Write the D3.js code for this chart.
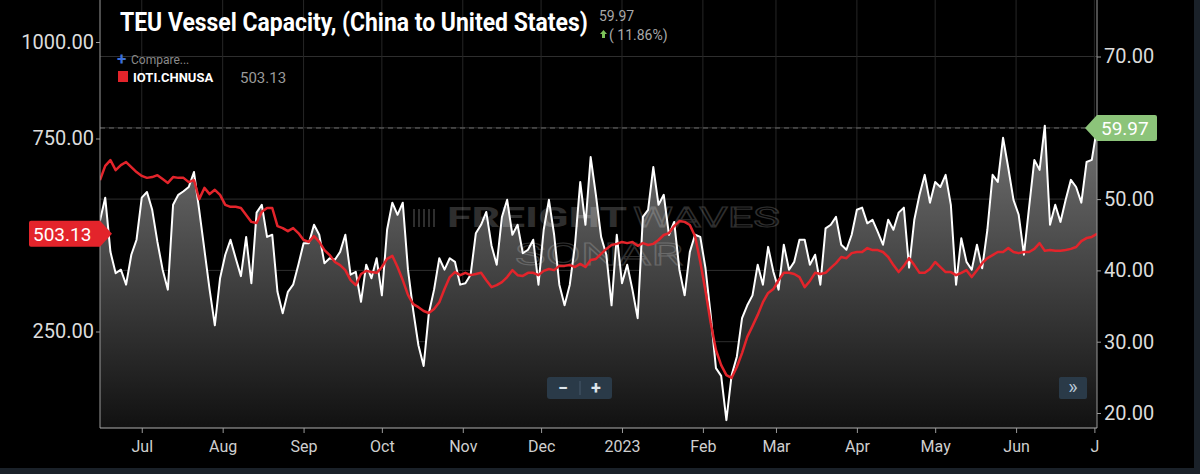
<!DOCTYPE html>
<html>
<head>
<meta charset="utf-8">
<script src="https://cdn.jsdelivr.net/npm/d3@7/dist/d3.min.js"></script>
<style>
  html, body { margin: 0; padding: 0; background: #000; }
  svg { display: block; font-family: Roboto, "Noto Sans", sans-serif; }
</style>
</head>
<body>
<script>
// ---- data (one value every 2 days from 2022-06-15) ----
const startDate = new Date(2022, 5, 15);
const stepDays = 2;

// TEU Vessel Capacity, China -> US (right axis)
const teuCapacity = [
  47.0, 50.2, 42.6, 39.6, 40.1, 38.0, 42.2, 44.3, 50.2, 51.0,
  48.5, 44.0, 40.1, 37.3, 49.2, 50.6, 51.1, 51.7, 53.8, 48.5,
  42.9, 37.3, 32.3, 38.9, 42.2, 44.3, 41.7, 39.2, 44.7, 38.2,
  48.1, 49.2, 44.7, 45.0, 37.0, 34.0, 37.0, 38.0, 40.8, 43.8,
  43.8, 46.4, 45.0, 41.0, 41.7, 41.5, 42.6, 45.0, 39.4, 39.8,
  35.6, 40.8, 38.9, 41.7, 36.5, 45.7, 49.5, 47.8, 49.5, 40.1,
  34.4, 29.5, 26.6, 34.0, 37.3, 41.7, 40.1, 41.7, 41.2, 38.0,
  38.2, 39.4, 45.2, 46.4, 48.2, 43.5, 40.8, 47.5, 49.9, 45.0,
  46.4, 42.4, 42.9, 44.3, 38.0, 45.7, 49.9, 45.0, 38.0, 35.1,
  38.0, 43.6, 52.4, 46.4, 55.9, 50.6, 44.7, 42.2, 35.1, 45.0,
  38.2, 40.8, 37.3, 33.3, 47.5, 48.5, 54.5, 49.2, 50.6, 45.0,
  46.8, 40.1, 36.5, 42.6, 45.0, 44.7, 40.3, 33.7, 26.3, 25.2,
  19.0, 25.3, 27.9, 33.3, 35.1, 36.5, 40.8, 38.0, 43.3, 39.8,
  37.3, 43.6, 40.1, 41.2, 44.3, 44.3, 40.8, 42.2, 38.0, 45.9,
  46.4, 47.5, 43.6, 42.9, 45.0, 48.5, 48.8, 46.6, 47.1, 45.4,
  43.6, 47.1, 45.7, 48.1, 48.8, 40.4, 47.1, 50.6, 53.4, 49.5,
  52.4, 51.7, 53.4, 49.2, 38.0, 44.5, 41.2, 40.1, 43.6, 40.3,
  45.7, 53.4, 52.4, 58.6, 54.4, 49.9, 47.8, 42.2, 48.9, 55.5,
  54.1, 60.3, 46.4, 49.2, 46.8, 49.9, 52.7, 51.7, 49.5, 55.2,
  55.5, 59.97
];

// IOTI.CHNUSA (left axis)
const iotiIndex = [
  642, 679, 694, 668, 681, 689, 676, 663, 653, 648,
  650, 655, 645, 635, 650, 648, 648, 637, 642, 593,
  622, 606, 617, 604, 578, 573, 573, 570, 552, 534,
  531, 560, 570, 570, 523, 518, 510, 518, 505, 487,
  482, 497, 482, 461, 448, 430, 422, 409, 383, 370,
  399, 407, 404, 402, 417, 438, 446, 417, 383, 345,
  321, 313, 303, 298, 308, 326, 360, 391, 404, 396,
  402, 396, 399, 402, 383, 365, 370, 378, 391, 409,
  396, 394, 402, 402, 396, 407, 412, 409, 420, 420,
  422, 417, 425, 417, 435, 438, 451, 464, 474, 477,
  482, 479, 482, 472, 479, 474, 477, 487, 500, 505,
  523, 536, 534, 526, 497, 430, 355, 272, 202, 163,
  137, 130, 158, 194, 236, 264, 293, 326, 350, 360,
  383, 402, 402, 399, 391, 365, 381, 402, 399, 402,
  415, 427, 443, 440, 453, 456, 456, 466, 461, 461,
  456, 443, 422, 404, 420, 440, 422, 402, 402, 412,
  430, 417, 404, 404, 396, 402, 409, 391, 409, 427,
  440, 448, 456, 456, 466, 456, 453, 456, 456, 464,
  479, 459, 461, 459, 459, 461, 464, 469, 484, 492,
  495, 503.13
];

const monthTicks = [
  "2022-07-01", "2022-08-01", "2022-09-01", "2022-10-01", "2022-11-01", "2022-12-01",
  "2023-01-01", "2023-02-01", "2023-03-01", "2023-04-01", "2023-05-01", "2023-06-01", "2023-07-01"
];
const monthLabels = ["Jul", "Aug", "Sep", "Oct", "Nov", "Dec", "2023", "Feb", "Mar", "Apr", "May", "Jun", "J"];

// labelled ticks (500 and 60 sit under the value tags, so they show no label)
const leftTicks = [250, 750, 1000];
const rightTicks = [20, 30, 40, 50, 70];
const gridLevels = [20, 30, 40, 50, 60, 70];

const titleText = "TEU Vessel Capacity, (China to United States)";
const lastTeu = 59.97;
const teuChange = "( 11.86%)";
const iotiName = "IOTI.CHNUSA";
const lastIoti = 503.13;

// ---- layout ----
const width = 1200, height = 474;
const plot = {left: 100, right: 1097, top: 0, bottom: 428};

const rows = teuCapacity.map((v, i) => ({
  date: d3.timeDay.offset(startDate, i * stepDays),
  teu: v,
  ioti: iotiIndex[i]
}));

const svg = d3.select("body").append("svg")
  .attr("width", width)
  .attr("height", height);

// frame
svg.append("rect").attr("width", width).attr("height", height).attr("fill", "#000");
svg.append("rect").attr("x", 1194).attr("y", 0).attr("width", 6).attr("height", height).attr("fill", "#1a2129");
svg.append("rect").attr("x", 0).attr("y", 468).attr("width", width).attr("height", 6).attr("fill", "#1a2129");

//scales
const xScale = d3.scaleTime()
  .domain([rows[0].date, rows[rows.length - 1].date])
  .range([plot.left, plot.right]);

const yRight = d3.scaleLinear().domain([20, 70]).range([413, 56.5]);
const yLeft = d3.scaleLinear().domain([0, 1000]).range([428, 42]);

const tickDates = monthTicks.map(d => d3.timeParse("%Y-%m-%d")(d));

const defs = svg.append("defs");
defs.append("clipPath").attr("id", "plotClip")
  .append("rect")
  .attr("x", plot.left).attr("y", plot.top)
  .attr("width", plot.right - plot.left).attr("height", plot.bottom - plot.top);

const grad = defs.append("linearGradient")
  .attr("id", "areaFill")
  .attr("gradientUnits", "userSpaceOnUse")
  .attr("x1", 0).attr("y1", 100).attr("x2", 0).attr("y2", plot.bottom);
grad.append("stop").attr("offset", 0).attr("stop-color", "#7a7a7a");
grad.append("stop").attr("offset", 1).attr("stop-color", "#111");

// grid
const grid = svg.append("g");
grid.selectAll(".hgrid").data(gridLevels).join("line")
  .attr("x1", plot.left).attr("x2", plot.right)
  .attr("y1", d => yRight(d)).attr("y2", d => yRight(d))
  .attr("stroke", "#2e2e2e").attr("stroke-width", 1);
grid.selectAll(".vgrid").data(tickDates).join("line")
  .attr("x1", d => xScale(d)).attr("x2", d => xScale(d))
  .attr("y1", plot.top).attr("y2", plot.bottom)
  .attr("stroke", "#262626").attr("stroke-width", 1);

const g = svg.append("g").attr("clip-path", "url(#plotClip)");

// area under the TEU line
const area = d3.area()
  .x(d => xScale(d.date))
  .y0(plot.bottom)
  .y1(d => yRight(d.teu));

g.append("path")
  .attr("d", area(rows))
  .attr("fill", "url(#areaFill)");

// watermark
const wm = g.append("g").attr("opacity", 0.18);
[0, 1, 2, 3, 4].forEach(k => {
  wm.append("rect")
    .attr("x", 413 + k * 5).attr("y", 209)
    .attr("width", 2).attr("height", 18)
    .attr("fill", "#fff");
});
wm.append("text")
  .attr("x", 447).attr("y", 227)
  .attr("font-size", 27).attr("font-weight", "bold")
  .attr("fill", "#fff")
  .attr("textLength", 180).attr("lengthAdjust", "spacingAndGlyphs")
  .text("FREIGHT");
wm.append("text")
  .attr("x", 633).attr("y", 227)
  .attr("font-size", 27)
  .attr("fill", "none").attr("stroke", "#fff").attr("stroke-width", 1)
  .attr("textLength", 147).attr("lengthAdjust", "spacingAndGlyphs")
  .text("WAVES");
wm.append("text")
  .attr("x", 515).attr("y", 265)
  .attr("font-size", 31)
  .attr("fill", "none").attr("stroke", "#fff").attr("stroke-width", 1)
  .attr("textLength", 168).attr("lengthAdjust", "spacingAndGlyphs")
  .text("SONAR");

// last value dashed line
g.append("line")
  .attr("x1", plot.left).attr("x2", plot.right)
  .attr("y1", yRight(lastTeu)).attr("y2", yRight(lastTeu))
  .attr("stroke", "#6a6a6a").attr("stroke-dasharray", "5,4");

// lines
const teuLine = d3.line()
  .x(d => xScale(d.date))
  .y(d => yRight(d.teu));

const iotiLine = d3.line()
  .x(d => xScale(d.date))
  .y(d => yLeft(d.ioti));

g.append("path")
  .attr("d", teuLine(rows))
  .attr("fill", "none")
  .attr("stroke", "#fff")
  .attr("stroke-width", 2)
  .attr("stroke-linejoin", "round");

g.append("path")
  .attr("d", iotiLine(rows))
  .attr("fill", "none")
  .attr("stroke", "#e3242b")
  .attr("stroke-width", 2.5)
  .attr("stroke-linejoin", "round");

// frame lines
svg.append("line").attr("x1", plot.left).attr("x2", plot.left).attr("y1", 0).attr("y2", plot.bottom)
  .attr("stroke", "#9a9a9a");
svg.append("line").attr("x1", plot.right).attr("x2", plot.right).attr("y1", 0).attr("y2", plot.bottom)
  .attr("stroke", "#9a9a9a");
svg.append("line").attr("x1", plot.left).attr("x2", plot.right).attr("y1", plot.bottom).attr("y2", plot.bottom)
  .attr("stroke", "#b0b0b0");

// axes
const styleAxis = (sel, size, color) => {
  sel.select(".domain").remove();
  sel.selectAll(".tick line").attr("stroke", "#9a9a9a");
  sel.selectAll(".tick text")
    .attr("fill", color)
    .attr("font-size", size)
    .attr("font-family", "Roboto, 'Noto Sans', sans-serif");
};

svg.append("g")
  .attr("transform", `translate(${plot.left},0)`)
  .call(d3.axisLeft(yLeft).tickValues(leftTicks).tickFormat(d3.format(".2f")).tickSize(4).tickPadding(2))
  .call(sel => styleAxis(sel, 20, "#dcdcdc"));

svg.append("g")
  .attr("transform", `translate(${plot.right},0)`)
  .call(d3.axisRight(yRight).tickValues(rightTicks).tickFormat(d3.format(".2f")).tickSize(4).tickPadding(3))
  .call(sel => styleAxis(sel, 20, "#dcdcdc"));

svg.append("g")
  .attr("transform", `translate(0,${plot.bottom})`)
  .call(d3.axisBottom(xScale).tickValues(tickDates).tickFormat((d, i) => monthLabels[i]).tickSize(5).tickPadding(8))
  .call(sel => styleAxis(sel, 16, "#cfcfcf"));

// value tags
const ry = yLeft(lastIoti);
svg.append("path")
  .attr("d", `M31,${ry - 13} H100 L112,${ry} L100,${ry + 13} H31 Q29,${ry + 13} 29,${ry + 11} V${ry - 11} Q29,${ry - 13} 31,${ry - 13} Z`)
  .attr("fill", "#e3242b");
svg.append("text")
  .attr("x", 33).attr("y", ry).attr("dy", "0.36em")
  .attr("font-size", 19).attr("fill", "#fff")
  .text(d3.format(".2f")(lastIoti));

const gy = yRight(lastTeu);
svg.append("path")
  .attr("d", `M1085,${gy} L1097,${gy - 13} H1155 Q1157,${gy - 13} 1157,${gy - 11} V${gy + 11} Q1157,${gy + 13} 1155,${gy + 13} H1097 Z`)
  .attr("fill", "#8cc47a");
svg.append("text")
  .attr("x", 1101).attr("y", gy).attr("dy", "0.36em")
  .attr("font-size", 19).attr("fill", "#fff")
  .text(d3.format(".2f")(lastTeu));

// zoom buttons
svg.append("rect").attr("x", 547).attr("y", 377).attr("width", 65).attr("height", 22).attr("rx", 3)
  .attr("fill", "#2a3a48");
svg.append("line").attr("x1", 580).attr("x2", 580).attr("y1", 381).attr("y2", 395).attr("stroke", "#46596b");
svg.append("text").attr("x", 563).attr("y", 394).attr("text-anchor", "middle")
  .attr("font-size", 18).attr("font-weight", "bold").attr("fill", "#dfe6ec").text("−");
svg.append("text").attr("x", 596).attr("y", 394).attr("text-anchor", "middle")
  .attr("font-size", 18).attr("font-weight", "bold").attr("fill", "#dfe6ec").text("+");
svg.append("rect").attr("x", 1059).attr("y", 377).attr("width", 28).attr("height", 22).attr("rx", 2)
  .attr("fill", "#2a3a48");
svg.append("text").attr("x", 1073).attr("y", 394).attr("text-anchor", "middle")
  .attr("font-size", 20).attr("fill", "#b8c8d6").text("»");

// header - condensed look: squeeze the text horizontally to its width in the original
const squeeze = (sel, targetWidth) => {
  const natural = sel.node().getComputedTextLength();
  const k = Math.min(1, targetWidth / natural);
  const x0 = +sel.attr("x");
  sel.attr("transform", `translate(${x0 * (1 - k)},0) scale(${k},1)`);
};

svg.append("text")
  .attr("x", 120).attr("y", 31)
  .attr("font-size", 25).attr("font-weight", "bold").attr("fill", "#fff")
  .text(titleText)
  .call(sel => squeeze(sel, 468));

svg.append("text")
  .attr("x", 599).attr("y", 21)
  .attr("font-size", 14).attr("fill", "#a8a8a8")
  .text(d3.format(".2f")(lastTeu));
svg.append("path")
  .attr("d", "M603.5,30 L607,34 H605 V38 H602 V34 H600 Z")
  .attr("fill", "#7cc35a");
svg.append("text")
  .attr("x", 609).attr("y", 40)
  .attr("font-size", 14).attr("fill", "#a8a8a8")
  .text(teuChange);

svg.append("text")
  .attr("x", 117).attr("y", 65)
  .attr("font-size", 17).attr("font-weight", "bold").attr("fill", "#3b6fd8")
  .text("+");
svg.append("text")
  .attr("x", 131).attr("y", 64)
  .attr("font-size", 12).attr("fill", "#8a8a8a")
  .text("Compare...");

svg.append("rect")
  .attr("x", 118).attr("y", 71).attr("width", 10).attr("height", 11)
  .attr("fill", "#e3242b");
svg.append("text")
  .attr("x", 133).attr("y", 82)
  .attr("font-size", 13).attr("font-weight", "bold").attr("fill", "#fff")
  .text(iotiName)
  .call(sel => squeeze(sel, 82));
svg.append("text")
  .attr("x", 240).attr("y", 83)
  .attr("font-size", 15).attr("fill", "#9a9a9a")
  .text(d3.format(".2f")(lastIoti));
</script>
</body>
</html>
